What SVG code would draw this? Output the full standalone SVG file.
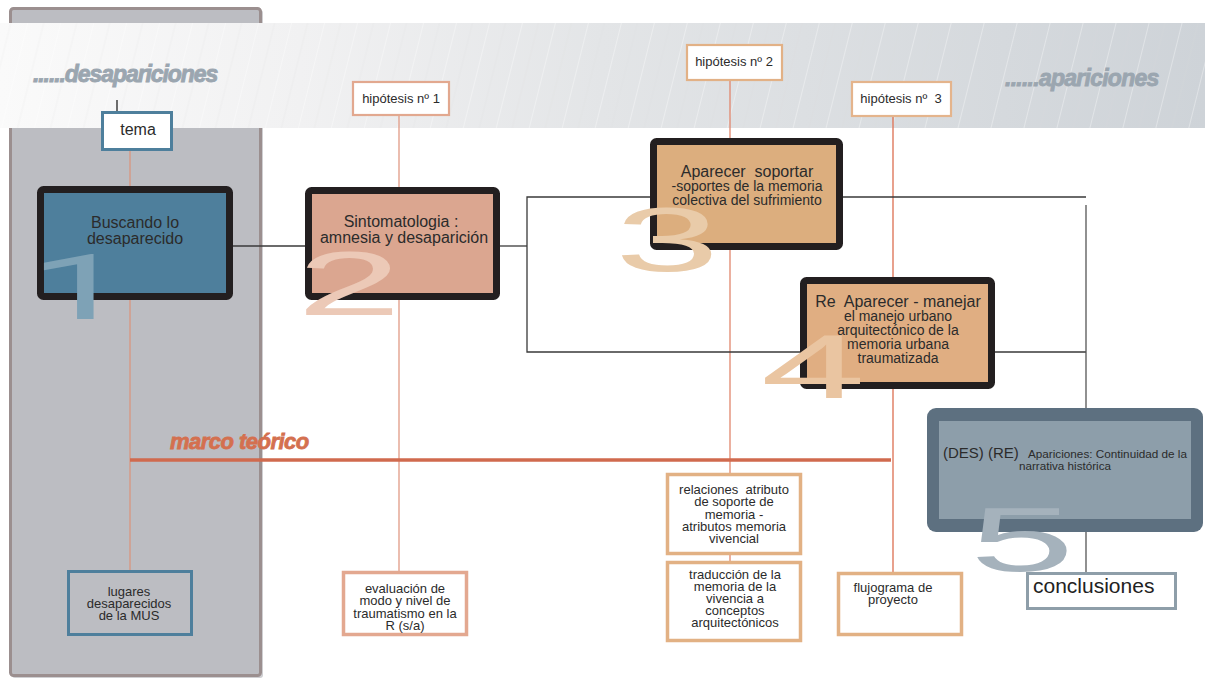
<svg xmlns="http://www.w3.org/2000/svg" width="1208" height="686" viewBox="0 0 1208 686">
<defs>
<linearGradient id="bandGrad" x1="0" y1="0" x2="1" y2="0">
<stop offset="0" stop-color="#fafafa"/>
<stop offset="0.25" stop-color="#f1f1f2"/>
<stop offset="0.5" stop-color="#e3e5e7"/>
<stop offset="1" stop-color="#ced3d8"/>
</linearGradient>
<pattern id="diag" width="32" height="120" patternUnits="userSpaceOnUse" patternTransform="rotate(14)">
<line x1="0" y1="0" x2="0" y2="120" stroke="#ffffff" stroke-width="0.9" stroke-opacity="0.75"/>
<line x1="16" y1="0" x2="16" y2="120" stroke="#d8d8d8" stroke-width="0.6" stroke-opacity="0.35"/>
</pattern>
</defs>
<style>
text{font-family:"Liberation Sans",Arial,sans-serif;fill:#2b2b2b}
.big{stroke:#231f20;stroke-width:7}
.conn{fill:none;stroke:#3a3a3a;stroke-width:1.3}
.digit{font-family:"Liberation Sans",Arial,sans-serif;font-weight:normal;font-size:91px;text-anchor:middle}
.one{font-family:Roboto,"Open Sans",sans-serif}
.t16{font-size:16px;text-anchor:middle}
.t14{font-size:14px;text-anchor:middle}
.t13{font-size:13px;text-anchor:middle}
.hyp{fill:#ffffff;stroke-width:2.2}
.leaf{fill:#ffffff;stroke-width:3.5}
.head{font-weight:bold;font-style:italic;font-size:23px;fill:#9ba6b0;stroke:#9ba6b0;stroke-width:0.9;letter-spacing:-1.3px}
</style>
<rect width="1208" height="686" fill="#ffffff"/>
<g id="panel-left">
<rect x="12" y="10" width="251" height="668" rx="3" fill="#cfcfd2"/>
<rect x="10.5" y="8.5" width="250" height="667" rx="3" fill="#bcbdc2" stroke="#9b8f8f" stroke-width="3"/>
</g>
<g id="band">
<rect x="0" y="23" width="1205" height="105" fill="url(#bandGrad)"/>
<rect x="0" y="23" width="1205" height="105" fill="url(#diag)"/>
<text class="head" x="33" y="82" textLength="184" lengthAdjust="spacing">......desapariciones</text>
<text class="head" x="1005" y="86" textLength="153" lengthAdjust="spacing">......apariciones</text>
</g>
<g id="connectors">
<line x1="117" y1="100" x2="117" y2="111" stroke="#222" stroke-width="1.3"/>
<line x1="130" y1="150" x2="130" y2="570" stroke="#d9957f" stroke-width="1.3"/>
<line x1="399" y1="115" x2="399" y2="571" stroke="#e09a85" stroke-width="1.3"/>
<line x1="730" y1="80" x2="730" y2="561" stroke="#e0866c" stroke-width="1.3"/>
<line x1="893" y1="116" x2="893" y2="572" stroke="#dc6e50" stroke-width="1.3"/>
<line x1="232" y1="246" x2="305" y2="246" class="conn"/>
<line x1="500" y1="246" x2="527" y2="246" class="conn"/>
<polyline points="1086,197 527,197 527,352 1086,352" class="conn"/>
<line x1="1086" y1="205" x2="1086" y2="410" stroke="#555" stroke-width="1.3"/>
<line x1="1086" y1="530" x2="1086" y2="572" stroke="#555" stroke-width="1.3"/>
<line x1="130" y1="460" x2="891" y2="460" stroke="#d06a4e" stroke-width="3.5"/>
<text x="170" y="449" font-size="22" font-weight="bold" font-style="italic" style="fill:#d4704f;stroke:#d4704f;stroke-width:0.8;letter-spacing:-1.2px" textLength="138" lengthAdjust="spacing">marco teórico</text>
</g>
<g id="tema">
<rect x="102.5" y="112.5" width="69" height="37" fill="#ffffff" stroke="#4e7f9c" stroke-width="3"/>
<text class="t16" x="138" y="135">tema</text>
</g>
<g id="hyp1">
<rect class="hyp" x="353" y="82" width="96" height="33" stroke="#e2a88f"/>
<text class="t13" x="401" y="103">hipótesis nº 1</text>
</g>
<g id="hyp2">
<rect class="hyp" x="687" y="45" width="95" height="35" stroke="#e2b186"/>
<text class="t13" x="734" y="66">hipótesis nº 2</text>
</g>
<g id="hyp3">
<rect class="hyp" x="852" y="82" width="99" height="34" stroke="#e4b48c"/>
<text class="t13" x="901" y="103" style="white-space:pre">hipótesis nº  3</text>
</g>
<g id="node1">
<rect class="big" x="40.5" y="189.5" width="189" height="107" rx="3" fill="#4e7f9c"/>
<text class="digit one" transform="translate(80,319) scale(2.0,1)" style="fill:#7ea2b6">1</text>
<text class="t16" x="135" y="228">Buscando lo</text>
<text class="t16" x="135" y="244">desaparecido</text>
</g>
<g id="node2">
<rect class="big" x="308.5" y="190.5" width="188" height="106" rx="3" fill="#dba690"/>
<text class="digit" transform="translate(349,315) scale(2.07,1)" style="fill:#ecc9b7">2</text>
<text class="t16" x="401" y="227">Sintomatologia :</text>
<text class="t16" x="404" y="243">amnesia y desaparición</text>
</g>
<g id="node3">
<rect class="big" x="653.5" y="141.5" width="186" height="105" rx="3" fill="#dcae7e"/>
<text class="digit" transform="translate(667,271) scale(2.07,1)" style="fill:#e9cba9">3</text>
<text class="t16" x="747" y="177" style="white-space:pre">Aparecer  soportar</text>
<text class="t14" x="747" y="191">-soportes de la memoria</text>
<text class="t14" x="747" y="205">colectiva del sufrimiento</text>
</g>
<g id="node4">
<rect class="big" x="803.5" y="280.5" width="188" height="105" rx="3" fill="#e0ae82"/>
<text class="digit" transform="translate(813,398) scale(2.07,1)" style="fill:#eac5a1">4</text>
<text class="t16" x="898" y="307" style="white-space:pre">Re  Aparecer - manejar</text>
<text class="t14" x="898" y="321">el manejo urbano</text>
<text class="t14" x="898" y="335">arquitectónico de la</text>
<text class="t14" x="898" y="349">memoria urbana</text>
<text class="t14" x="898" y="363">traumatizada</text>
</g>
<g id="node5">
<rect x="927" y="408" width="276" height="124" rx="9" fill="#5d7080"/>
<rect x="939" y="421" width="252" height="98" fill="#8d9eaa"/>
<text class="digit" transform="translate(1022,571) scale(2.07,1)" style="fill:#a5b2bc">5</text>
<text x="943" y="458" font-size="15">(DES) (RE)</text>
<text x="1028" y="458" font-size="11.5" textLength="159" lengthAdjust="spacingAndGlyphs">Apariciones: Continuidad de la</text>
<text x="1019" y="470" font-size="11.5" textLength="92" lengthAdjust="spacingAndGlyphs">narrativa histórica</text>
</g>
<g id="conclusiones">
<rect x="1027.5" y="573.5" width="148" height="35" fill="#ffffff" stroke="#8e9ea9" stroke-width="3"/>
<text x="1033" y="593" font-size="21" style="fill:#222">conclusiones</text>
</g>
<g id="lugares">
<rect x="68.5" y="571.5" width="123" height="63" fill="none" stroke="#4e7f9c" stroke-width="3"/>
<text class="t13" x="129" y="596">lugares</text>
<text class="t13" x="129" y="608">desaparecidos</text>
<text class="t13" x="129" y="620">de la MUS</text>
</g>
<g id="evaluacion">
<rect class="leaf" x="343.5" y="572.5" width="123" height="62" stroke="#e3a890"/>
<text class="t13" x="405" y="593">evaluación de</text>
<text class="t13" x="405" y="605">modo y nivel de</text>
<text class="t13" x="405" y="618">traumatismo en la</text>
<text class="t13" x="405" y="630">R (s/a)</text>
</g>
<g id="relaciones">
<rect class="leaf" x="667.5" y="474.5" width="133" height="79" stroke="#e2b184"/>
<text class="t13" x="734" y="494" style="white-space:pre">relaciones  atributo</text>
<text class="t13" x="734" y="506">de soporte de</text>
<text class="t13" x="734" y="519">memoria -</text>
<text class="t13" x="734" y="531">atributos memoria</text>
<text class="t13" x="734" y="543">vivencial</text>
</g>
<g id="traduccion">
<rect class="leaf" x="667.5" y="562.5" width="133" height="78" stroke="#e2b184"/>
<text class="t13" x="735" y="579">traducción de la</text>
<text class="t13" x="735" y="591">memoria de la</text>
<text class="t13" x="735" y="603">vivencia a</text>
<text class="t13" x="735" y="615">conceptos</text>
<text class="t13" x="735" y="627">arquitectónicos</text>
</g>
<g id="flujograma">
<rect class="leaf" x="838.5" y="573.5" width="123" height="61" stroke="#e2b184"/>
<text class="t13" x="893" y="592">flujograma de</text>
<text class="t13" x="893" y="604">proyecto</text>
</g>
</svg>
